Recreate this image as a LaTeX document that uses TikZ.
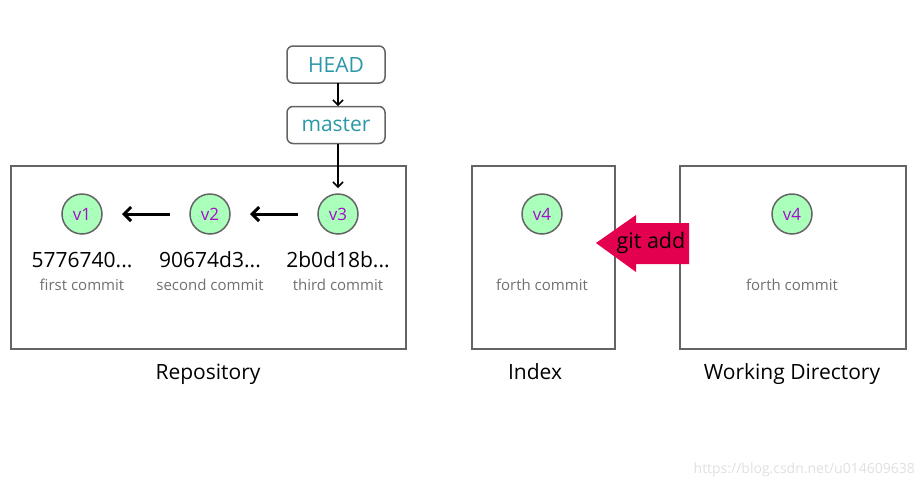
\documentclass[tikz,border=0pt]{standalone}
\usepackage{fontspec}
\setmainfont{Open Sans}
\usetikzlibrary{arrows.meta}
\definecolor{boxgray}{HTML}{646464}
\definecolor{tealtxt}{HTML}{2A98A6}
\definecolor{purptxt}{HTML}{A010C8}
\definecolor{greenfill}{HTML}{AAFFBB}
\definecolor{subgray}{HTML}{707070}
\definecolor{crimson}{HTML}{E3004E}
\tikzset{
  refbox/.style={draw=boxgray, line width=1.5pt, rounded corners=6pt, minimum width=98pt, minimum height=37pt, inner sep=0pt, text=tealtxt, font=\fontsize{21}{24}\selectfont},
  area/.style={draw=boxgray, line width=1.5pt},
  ver/.style={circle, draw=boxgray, line width=1.5pt, fill=greenfill, minimum size=40pt, inner sep=0pt, text=purptxt, font=\fontsize{17}{20}\selectfont},
  hash/.style={font=\fontsize{21}{24}\selectfont, text=black, inner sep=0pt, anchor=base},
  sub/.style={font=\fontsize{15}{18}\selectfont, text=subgray, inner sep=0pt, anchor=base},
  lbl/.style={font=\fontsize{21}{24}\selectfont, text=black, inner sep=0pt, anchor=base},
  thin/.style={-{Straight Barb[length=5pt,width=10pt]}, line width=1.5pt, black},
  thick/.style={-{Straight Barb[length=7pt,width=14pt]}, line width=3pt, black},
}
\begin{document}
\begin{tikzpicture}[x=1pt,y=-1pt]
\useasboundingbox (0,0) rectangle (924,488);
% boxes
\draw[area] (11,166) rectangle (406,349);
\draw[area] (472,166) rectangle (615,349);
\draw[area] (680,166) rectangle (906,349);
% refs
\node[refbox] (head) at (336,64.5) {HEAD};
\node[refbox] (master) at (336,125) {master};
% commits
\node[ver] (v1) at (82,214) {v1};
\node[ver] (v2) at (210,214) {v2};
\node[ver] (v3) at (338,214) {v3};
\node[ver] (v4i) at (542,214) {v4};
\node[ver] (v4w) at (792,214) {v4};
\node[hash] (h1) at (82,267) {5776740...};
\node[hash] (h2) at (210,267) {90674d3...};
\node[hash] (h3) at (338,267) {2b0d18b...};
\node[sub] (s1) at (82,290) {first commit};
\node[sub] (s2) at (210,290) {second commit};
\node[sub] (s3) at (338,290) {third commit};
\node[sub] (s4) at (542,290) {forth commit};
\node[sub] (s5) at (792,290) {forth commit};
% labels
\node[lbl] (l1) at (208,379) {Repository};
\node[lbl] (l2) at (535,379) {Index};
\node[lbl] (l3) at (792,379) {Working Directory};
% arrows
\coordinate (hm) at (338,83);
\coordinate (mt) at (338,106);
\draw[thin] (hm) -- (mt);
\coordinate (mb) at (338,144);
\coordinate (v3t) at (338,188);
\draw[thin] (mb) -- (v3t);
\coordinate (a1s) at (170,214);
\coordinate (a1e) at (122,214);
\draw[thick] (a1s) -- (a1e);
\coordinate (a2s) at (298,214);
\coordinate (a2e) at (250,214);
\draw[thick] (a2s) -- (a2e);
% git add arrow
\fill[crimson] (596,243) -- (636,215) -- (636,223) -- (689,223) -- (689,264) -- (636,264) -- (636,272) -- cycle;
\node[font=\fontsize{21.5}{24}\selectfont, inner sep=0pt] (ga) at (651,243) {git add};
% watermark
\node[font=\fontsize{14}{16}\selectfont, text=black!12, inner sep=0pt, anchor=east] (wm) at (915,470) {https://blog.csdn.net/u014609638};
\end{tikzpicture}
\end{document}
